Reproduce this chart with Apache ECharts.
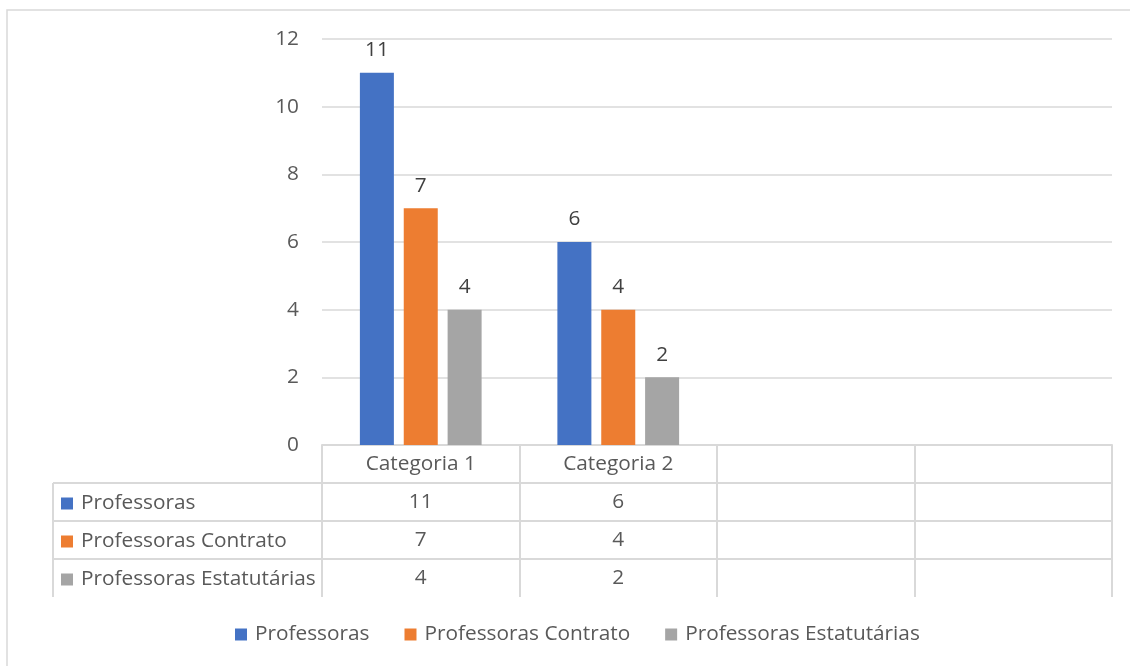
<!DOCTYPE html>
<html><head><meta charset="utf-8">
<script src="https://cdn.jsdelivr.net/npm/echarts@6/dist/echarts.min.js"></script>
<style>html,body{margin:0;padding:0;background:#fff}#c{width:1130px;height:666px}</style>
</head><body><div id="c"></div>
<script>
const categories = ['Categoria 1', 'Categoria 2', '', ''];
const seriesNames = ['Professoras', 'Professoras Contrato', 'Professoras Estatutárias'];
const professoras = [11, 6, null, null];
const contrato = [7, 4, null, null];
const estatutarias = [4, 2, null, null];
const yTicks = [0, 2, 4, 6, 8, 10, 12];
const colors = ['#4472C4', '#ED7D31', '#A5A5A5'];

const allValues = [professoras, contrato, estatutarias];
const FONT = 'Open Sans';
const FS = 20.8;
const TXT = '#595959';
const LINE = '#d9d9d9';

const chart = echarts.init(document.getElementById('c'));
const gridL = 322, gridR = 18, gridT = 39, gridB = 221;
const rowH = 38;

function tableGraphics() {
  const top = chart.convertToPixel({yAxisIndex: 0}, 0);
  const right = 1130 - gridR;
  const left = 53;
  const g = [];
  for (let r = 1; r <= seriesNames.length; r++) {
    const y = top + r * rowH;
    g.push({type: 'line', shape: {x1: left, y1: y, x2: right, y2: y}, style: {stroke: LINE, lineWidth: 2}, silent: true});
  }
  g.push({type: 'line', shape: {x1: left, y1: top + rowH, x2: left, y2: top + rowH * (seriesNames.length + 1)}, style: {stroke: LINE, lineWidth: 2}, silent: true});
  g.push({type: 'rect', shape: {x: 7, y: 10, width: 1140, height: 700}, style: {fill: null, stroke: LINE, lineWidth: 1.5}, silent: true, z: -1});
  return g;
}

const legendText = {color: TXT, fontSize: FS, fontFamily: FONT, lineHeight: 14, padding: [0, 0, 0, 3]};
const legends = [{
  data: seriesNames, orient: 'horizontal', left: 235, top: 624, padding: 0,
  itemWidth: 12, itemHeight: 12, itemGap: 35, icon: 'rect',
  textStyle: legendText
}];
seriesNames.forEach((n, k) => legends.push({
  data: [n], orient: 'vertical', left: 61, top: 493 + k * rowH, padding: 0,
  itemWidth: 12, itemHeight: 12, icon: 'rect', selectedMode: false,
  textStyle: legendText
}));

const option = {
  animation: false,
  backgroundColor: '#fff',
  textStyle: {fontFamily: FONT},
  grid: {left: gridL, right: gridR, top: gridT, bottom: gridB, containLabel: false},
  legend: legends,
  xAxis: {
    type: 'category', data: categories,
    axisLine: {show: true, lineStyle: {color: LINE, width: 2}},
    axisTick: {show: true, length: rowH * 4, lineStyle: {color: LINE, width: 2}},
    axisLabel: {
      margin: 0, color: TXT, fontSize: FS, fontFamily: FONT, lineHeight: rowH,
      interval: 0,
      formatter: function (v, i) {
        const lines = [v];
        allValues.forEach(a => lines.push(a[i] == null ? ' ' : String(a[i])));
        return lines.join('\n');
      }
    }
  },
  yAxis: {
    type: 'value', min: yTicks[0], max: yTicks[yTicks.length - 1], interval: 2,
    axisLine: {show: false}, axisTick: {show: false},
    axisLabel: {margin: 23, color: TXT, fontSize: FS, fontFamily: FONT},
    splitLine: {lineStyle: {color: LINE, width: 1.5}}
  },
  series: seriesNames.map((n, k) => ({
    name: n, type: 'bar', data: allValues[k], barWidth: 34, barGap: '29%',
    itemStyle: {color: colors[k]},
    label: {show: true, position: 'top', distance: 12, color: '#404040', fontSize: FS, fontFamily: FONT}
  }))
};
chart.setOption(option);
chart.setOption({graphic: tableGraphics()});
</script></body></html>
